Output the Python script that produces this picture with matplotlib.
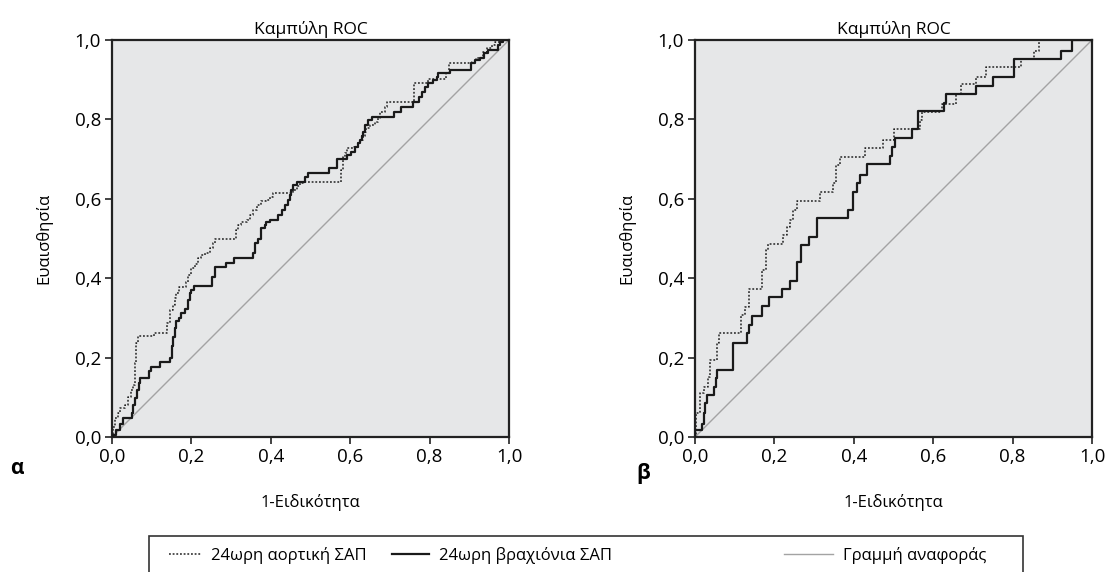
import numpy as np
import matplotlib
matplotlib.use("Agg")
import matplotlib.pyplot as plt
from matplotlib.patches import Rectangle

plt.rcParams['font.family'] = ['Open Sans', 'DejaVu Sans']

# ROC step curves (1-specificity, sensitivity), values where each step starts
# panel α
a_aort_x = [0, 0.003, 0.007, 0.015, 0.021, 0.032, 0.040, 0.049, 0.053, 0.057, 0.061, 0.066, 0.106,
            0.139, 0.145, 0.154, 0.158, 0.162, 0.168, 0.186, 0.192, 0.200, 0.208, 0.217, 0.225,
            0.234, 0.246, 0.255, 0.259, 0.312, 0.318, 0.326, 0.339, 0.347, 0.355, 0.364, 0.376,
            0.389, 0.397, 0.406, 0.414, 0.455, 0.465, 0.473, 0.484, 0.576, 0.581, 0.587, 0.591,
            0.610, 0.620, 0.624, 0.633, 0.637, 0.641, 0.650, 0.662, 0.671, 0.675, 0.687, 0.692,
            0.761, 0.795, 0.841, 0.850, 0.906, 0.918, 0.935, 0.944, 0.956, 0.965, 0.977, 1.0]
a_aort_y = [0, 0.026, 0.047, 0.060, 0.072, 0.081, 0.102, 0.118, 0.131, 0.186, 0.236, 0.255, 0.262,
            0.286, 0.320, 0.332, 0.349, 0.362, 0.379, 0.391, 0.408, 0.425, 0.437, 0.450, 0.458,
            0.464, 0.475, 0.488, 0.498, 0.521, 0.534, 0.542, 0.547, 0.559, 0.572, 0.584, 0.595,
            0.597, 0.605, 0.614, 0.615, 0.622, 0.631, 0.639, 0.643, 0.673, 0.706, 0.715, 0.727,
            0.731, 0.740, 0.748, 0.757, 0.769, 0.778, 0.786, 0.794, 0.803, 0.819, 0.832, 0.845,
            0.891, 0.903, 0.916, 0.941, 0.945, 0.954, 0.971, 0.979, 0.987, 0.996, 1.0, 1.0]
a_brach_x = [0, 0.003, 0.011, 0.019, 0.028, 0.050, 0.053, 0.057, 0.063, 0.068, 0.071, 0.093, 0.099,
             0.120, 0.145, 0.150, 0.154, 0.158, 0.162, 0.168, 0.175, 0.183, 0.192, 0.196, 0.200,
             0.207, 0.253, 0.259, 0.287, 0.308, 0.354, 0.360, 0.368, 0.376, 0.385, 0.389, 0.397,
             0.417, 0.427, 0.435, 0.444, 0.448, 0.452, 0.456, 0.465, 0.486, 0.494, 0.547, 0.566,
             0.593, 0.603, 0.612, 0.620, 0.624, 0.629, 0.633, 0.637, 0.645, 0.654, 0.710, 0.729,
             0.757, 0.774, 0.780, 0.788, 0.797, 0.809, 0.818, 0.822, 0.851, 0.904, 0.914, 0.927,
             0.937, 0.948, 0.973, 0.977, 0.986, 1.0]
a_brach_y = [0, 0.005, 0.018, 0.034, 0.047, 0.060, 0.081, 0.097, 0.118, 0.135, 0.148, 0.165, 0.177,
             0.190, 0.198, 0.228, 0.253, 0.274, 0.291, 0.299, 0.312, 0.322, 0.345, 0.362, 0.370,
             0.380, 0.402, 0.427, 0.439, 0.452, 0.463, 0.488, 0.500, 0.526, 0.534, 0.542, 0.547,
             0.559, 0.572, 0.584, 0.597, 0.610, 0.622, 0.635, 0.643, 0.656, 0.664, 0.677, 0.699,
             0.710, 0.719, 0.731, 0.740, 0.748, 0.757, 0.769, 0.786, 0.798, 0.807, 0.819, 0.832,
             0.845, 0.857, 0.870, 0.882, 0.891, 0.899, 0.908, 0.916, 0.924, 0.941, 0.950, 0.954,
             0.966, 0.975, 0.987, 0.996, 1.0, 1.0]

# panel β
b_aort_x = [0, 0.003, 0.013, 0.023, 0.034, 0.039, 0.055, 0.060, 0.115, 0.126, 0.137, 0.168, 0.179,
            0.183, 0.221, 0.231, 0.239, 0.248, 0.256, 0.315, 0.347, 0.355, 0.365, 0.427, 0.474,
            0.500, 0.567, 0.573, 0.623, 0.657, 0.671, 0.707, 0.732, 0.821, 0.855, 0.866, 1.0]
b_aort_y = [0, 0.060, 0.110, 0.125, 0.152, 0.194, 0.236, 0.263, 0.307, 0.328, 0.374, 0.421, 0.471,
            0.485, 0.509, 0.530, 0.547, 0.572, 0.594, 0.618, 0.639, 0.685, 0.706, 0.729, 0.748,
            0.775, 0.798, 0.818, 0.840, 0.863, 0.889, 0.908, 0.931, 0.952, 0.973, 1.0, 1.0]
b_brach_x = [0, 0, 0.018, 0.023, 0.025, 0.029, 0.048, 0.053, 0.056, 0.095, 0.130, 0.137, 0.144,
             0.170, 0.186, 0.220, 0.239, 0.256, 0.266, 0.287, 0.307, 0.386, 0.397, 0.409, 0.416,
             0.434, 0.491, 0.495, 0.503, 0.546, 0.562, 0.626, 0.631, 0.707, 0.751, 0.804, 0.923,
             0.950, 1.0]
b_brach_y = [0, 0.018, 0.034, 0.060, 0.085, 0.106, 0.127, 0.148, 0.170, 0.238, 0.261, 0.282, 0.305,
             0.330, 0.352, 0.372, 0.394, 0.442, 0.484, 0.505, 0.551, 0.573, 0.618, 0.639, 0.660,
             0.688, 0.708, 0.730, 0.752, 0.775, 0.822, 0.842, 0.863, 0.885, 0.907, 0.952, 0.973,
             1.0, 1.0]

ticks = [0.0, 0.2, 0.4, 0.6, 0.8, 1.0]
tick_labels = ["0,0", "0,2", "0,4", "0,6", "0,8", "1,0"]
series_names = ["24ωρη αορτική ΣΑΠ", "24ωρη βραχιόνια ΣΑΠ", "Γραμμή αναφοράς"]

W, H = 1111, 572
fig = plt.figure(figsize=(W / 100, H / 100), dpi=100)

panels = [
    ("α", 112, a_aort_x, a_aort_y, a_brach_x, a_brach_y, (10, 469)),
    ("β", 695, b_aort_x, b_aort_y, b_brach_x, b_brach_y, (636, 474)),
]

handles = None
for letter, left, ax_x, ax_y, br_x, br_y, lpos in panels:
    ax = fig.add_axes([left / W, 1 - 437 / H, 397 / W, 397 / H])
    ax.set_facecolor("#e6e7e8")
    h1, = ax.plot(ax_x, ax_y, drawstyle="steps-post", color="#222222", lw=1.1,
                  linestyle=(0, (1.2, 1.2)), zorder=3)
    h2, = ax.plot(br_x, br_y, drawstyle="steps-post", color="#1a1a1a", lw=1.6, zorder=4)
    h3, = ax.plot([0, 1], [0, 1], color="#a3a3a3", lw=1.0, zorder=2)
    handles = [h1, h2, h3]
    ax.set_xlim(0, 1)
    ax.set_ylim(0, 1)
    ax.set_xticks(ticks)
    ax.set_xticklabels(tick_labels)
    ax.set_yticks(ticks)
    ax.set_yticklabels(tick_labels)
    ax.tick_params(direction="out", length=5, width=1.2, labelsize=13.5, pad=3, color="#222222")
    for s in ax.spines.values():
        s.set_linewidth(1.6)
        s.set_color("#222222")
    ax.set_title("Καμπύλη ROC", fontsize=12.5, pad=4)
    ax.set_xlabel("1-Ειδικότητα", fontsize=12, labelpad=20)
    ax.set_ylabel("Ευαισθησία", fontsize=12, labelpad=16)
    fig.text(lpos[0] / W, 1 - lpos[1] / H, letter, fontsize=15, fontweight="bold",
             va="center", ha="left")

# legend box, cut at the bottom of the figure
fig.patches.append(Rectangle((149 / W, -0.05), (1023 - 149) / W, 0.05 + 1 - 536 / H,
                             transform=fig.transFigure, fill=False, edgecolor="#333333",
                             lw=1.2, clip_on=False))
key_x = [166, 389, 781]
hlen = [1.9, 2.2, 2.9]
for h, name, kx, hl in zip(handles, series_names, key_x, hlen):
    fig.legend([h], [name], loc="center left", bbox_to_anchor=(kx / W, 1 - 555 / H),
               frameon=False, fontsize=12, handlelength=hl, handletextpad=0.6,
               borderaxespad=0, borderpad=0.2)

fig.savefig("out.png", dpi=100)
